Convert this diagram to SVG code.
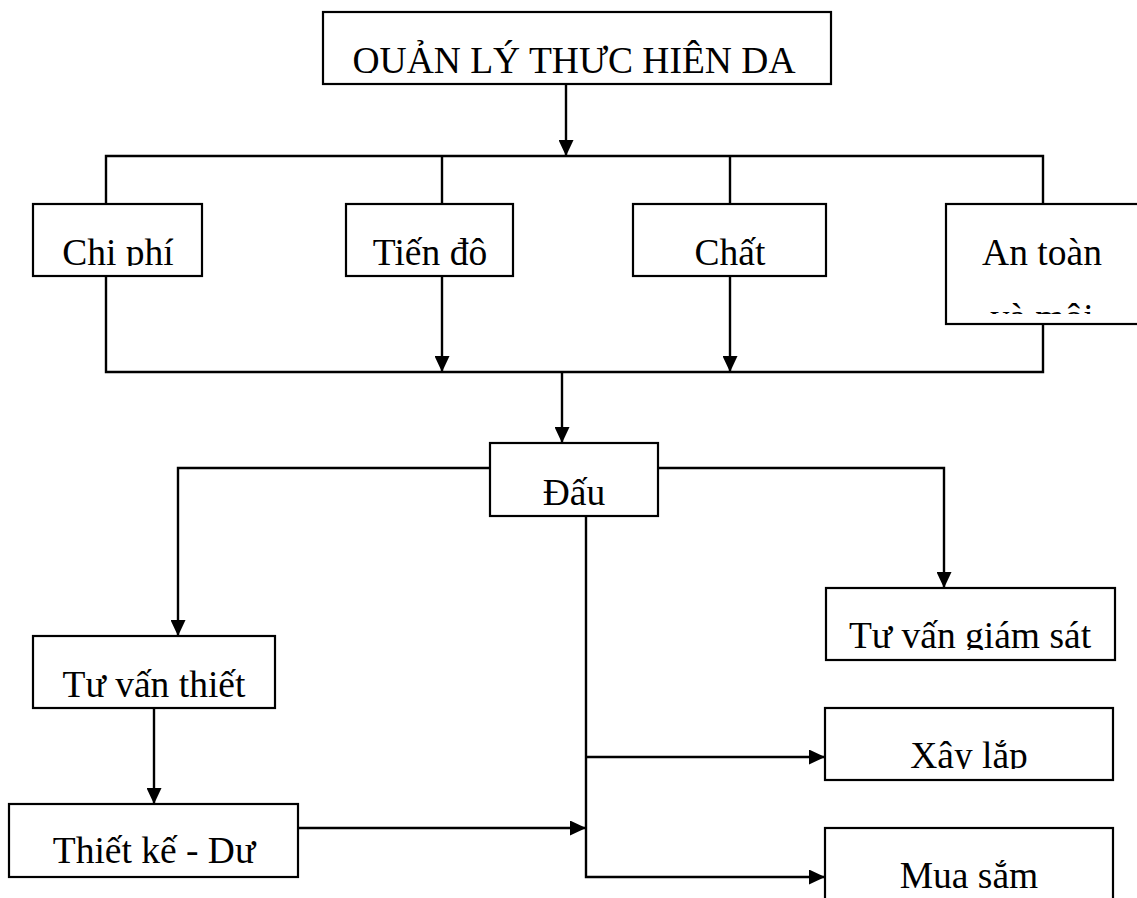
<svg xmlns="http://www.w3.org/2000/svg" width="1137" height="898" viewBox="0 0 1137 898">
<style>
.box{fill:#fff;stroke:#000;stroke-width:2.2}
.lbl{font-family:"Liberation Serif","Times New Roman",serif;font-size:37.5px;fill:#000;text-anchor:middle}
.ln{fill:none;stroke:#000;stroke-width:2.4}
</style>
<defs>
<marker id="ah" markerUnits="userSpaceOnUse" markerWidth="16" markerHeight="15" refX="16" refY="7.5" orient="auto">
<path d="M0,0 L16,7.5 L0,15 Z" fill="#000"/>
</marker>
<clipPath id="c0"><rect x="323" y="12" width="508" height="61"/></clipPath>
<clipPath id="c1"><rect x="33" y="204" width="169" height="62"/></clipPath>
<clipPath id="c2"><rect x="346" y="204" width="167" height="62"/></clipPath>
<clipPath id="c3"><rect x="633" y="204" width="193" height="62"/></clipPath>
<clipPath id="c4"><rect x="946" y="204" width="200" height="110"/></clipPath>
<clipPath id="c5"><rect x="490" y="443" width="168" height="64"/></clipPath>
<clipPath id="c6"><rect x="826" y="588" width="289" height="62"/></clipPath>
<clipPath id="c7"><rect x="33" y="636" width="242" height="62"/></clipPath>
<clipPath id="c8"><rect x="9" y="804" width="289" height="61"/></clipPath>
<clipPath id="c9"><rect x="825" y="708" width="288" height="61"/></clipPath>
<clipPath id="c10"><rect x="825" y="828" width="288" height="70"/></clipPath>
</defs>
<rect width="1137" height="898" fill="#fff"/>
<g id="connectors">
<path class="ln" d="M566,84 V156" marker-end="url(#ah)"/>
<path class="ln" d="M106,204 V156 H1043 V204"/>
<path class="ln" d="M442,156 V204 M730,156 V204"/>
<path class="ln" d="M106,276 V372 H1043 V324"/>
<path class="ln" d="M442,276 V372" marker-end="url(#ah)"/>
<path class="ln" d="M730,276 V372" marker-end="url(#ah)"/>
<path class="ln" d="M562,372 V443" marker-end="url(#ah)"/>
<path class="ln" d="M490,468 H178 V636" marker-end="url(#ah)"/>
<path class="ln" d="M658,468 H944 V588" marker-end="url(#ah)"/>
<path class="ln" d="M586,516 V877 H825" marker-end="url(#ah)"/>
<path class="ln" d="M586,757 H825" marker-end="url(#ah)"/>
<path class="ln" d="M154,708 V804" marker-end="url(#ah)"/>
<path class="ln" d="M298,828 H586" marker-end="url(#ah)"/>
</g>
<g id="n-title"><rect class="box" x="323" y="12" width="508" height="72"/><text class="lbl" x="574" y="73" clip-path="url(#c0)">QUẢN LÝ THỰC HIỆN DA</text></g>
<g id="n-chiphi"><rect class="box" x="33" y="204" width="169" height="72"/><text class="lbl" x="118" y="265" clip-path="url(#c1)">Chi phí</text></g>
<g id="n-tiendo"><rect class="box" x="346" y="204" width="167" height="72"/><text class="lbl" x="430" y="265" clip-path="url(#c2)">Tiến độ</text></g>
<g id="n-chat"><rect class="box" x="633" y="204" width="193" height="72"/><text class="lbl" x="730" y="265" clip-path="url(#c3)">Chất</text></g>
<g id="n-antoan"><rect class="box" x="946" y="204" width="200" height="120"/><text class="lbl" x="1042" y="265" clip-path="url(#c4)">An toàn</text><text class="lbl" x="1042" y="330" clip-path="url(#c4)">và môi</text></g>
<g id="n-dau"><rect class="box" x="490" y="443" width="168" height="73"/><text class="lbl" x="574" y="505" clip-path="url(#c5)">Đấu</text></g>
<g id="n-tvgs"><rect class="box" x="826" y="588" width="289" height="72"/><text class="lbl" x="970" y="648" clip-path="url(#c6)">Tư vấn giám sát</text></g>
<g id="n-tvtk"><rect class="box" x="33" y="636" width="242" height="72"/><text class="lbl" x="154" y="697" clip-path="url(#c7)">Tư vấn thiết</text></g>
<g id="n-tkdt"><rect class="box" x="9" y="804" width="289" height="73"/><text class="lbl" x="154" y="863" clip-path="url(#c8)">Thiết kế - Dự</text></g>
<g id="n-xaylap"><rect class="box" x="825" y="708" width="288" height="72"/><text class="lbl" x="969" y="768" clip-path="url(#c9)">Xây lắp</text></g>
<g id="n-muasam"><rect class="box" x="825" y="828" width="288" height="80"/><text class="lbl" x="969" y="888" clip-path="url(#c10)">Mua sắm</text></g>
</svg>
